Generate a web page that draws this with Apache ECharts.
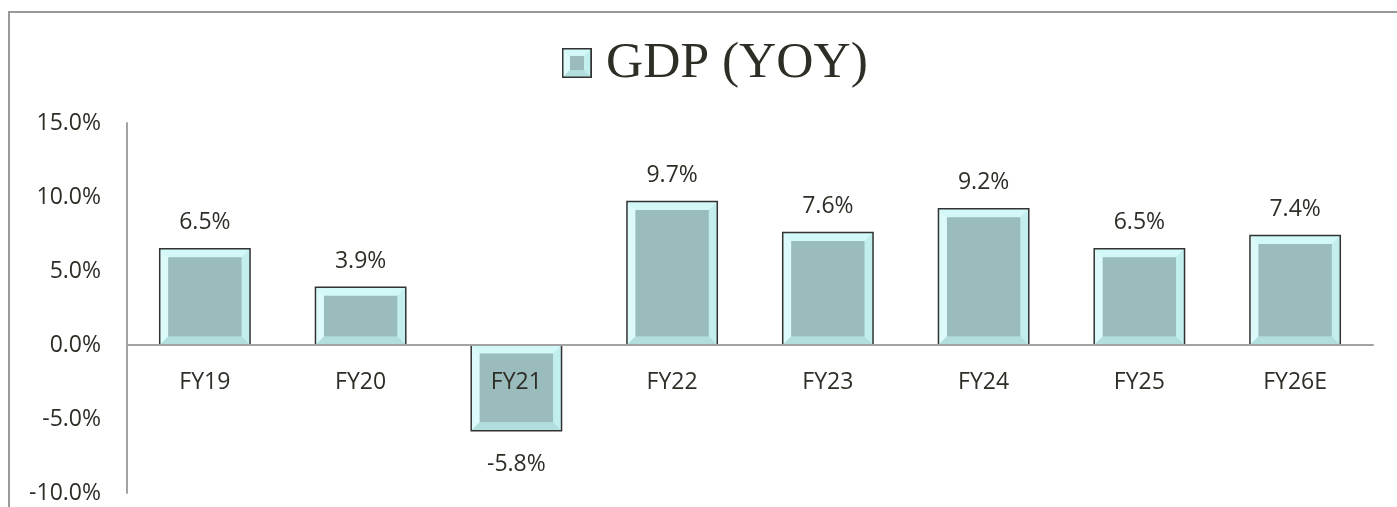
<!DOCTYPE html>
<html>
<head>
<meta charset="utf-8">
<script src="https://cdn.jsdelivr.net/npm/echarts@6/dist/echarts.min.js"></script>
<style>
html,body{margin:0;padding:0;background:#fff;}
#main{width:1397px;height:507px;}
</style>
</head>
<body>
<div id="main"></div>
<script>
const categories = ['FY19','FY20','FY21','FY22','FY23','FY24','FY25','FY26E'];
const gdpValues = [6.5, 3.9, -5.8, 9.7, 7.6, 9.2, 6.5, 7.4];
const seriesName = 'GDP (YOY)';
const yTicks = {min: -10, max: 15, interval: 5};

const C = {
  outline: '#333333',
  face: '#9bbcbc',
  top: '#d2f8f8',
  left: '#dcfafa',
  right: '#c2eeee',
  bottom: '#b2dede',
  text: '#2e2e26',
  axis: '#a3a3a3'
};

const iconSvg = '<svg xmlns="http://www.w3.org/2000/svg" width="39" height="30" viewBox="0 0 39 30" preserveAspectRatio="none">' +
  '<rect x="0.75" y="0.75" width="28.5" height="28.5" fill="' + C.right + '" stroke="' + C.outline + '" stroke-width="1.5"/>' +
  '<polygon points="0.75,0.75 29.25,0.75 22,8 8,8" fill="' + C.top + '"/>' +
  '<polygon points="0.75,0.75 8,8 8,22 0.75,29.25" fill="' + C.left + '"/>' +
  '<polygon points="0.75,29.25 8,22 22,22 29.25,29.25" fill="' + C.bottom + '"/>' +
  '<rect x="8" y="8" width="14" height="14" fill="' + C.face + '"/>' +
  '<rect x="0.75" y="0.75" width="28.5" height="28.5" fill="none" stroke="' + C.outline + '" stroke-width="1.5"/>' +
  '</svg>';
const iconUrl = 'image://data:image/svg+xml;charset=utf-8,' + encodeURIComponent(iconSvg);

const chart = echarts.init(document.getElementById('main'), null, {renderer: 'canvas'});

function renderBar(params, api) {
  const idx = api.value(0);
  const v = api.value(1);
  const base = api.coord([idx, 0]);
  const end = api.coord([idx, v]);
  const bw = api.size([1, 0])[0] * 0.58;
  const x0 = base[0] - bw / 2, x1 = base[0] + bw / 2;
  const y0 = Math.min(base[1], end[1]), y1 = Math.max(base[1], end[1]);
  const b = 8.5;
  const children = [
    {type: 'rect', shape: {x: x0, y: y0, width: bw, height: y1 - y0}, style: {fill: C.right}},
    {type: 'polygon', shape: {points: [[x0, y0], [x1, y0], [x1 - b, y0 + b], [x0 + b, y0 + b]]}, style: {fill: C.top}},
    {type: 'polygon', shape: {points: [[x0, y0], [x0 + b, y0 + b], [x0 + b, y1 - b], [x0, y1]]}, style: {fill: C.left}},
    {type: 'polygon', shape: {points: [[x0, y1], [x0 + b, y1 - b], [x1 - b, y1 - b], [x1, y1]]}, style: {fill: C.bottom}},
    {type: 'rect', shape: {x: x0 + b, y: y0 + b, width: bw - 2 * b, height: y1 - y0 - 2 * b}, style: {fill: C.face}},
    {type: 'rect', shape: {x: x0, y: y0, width: bw, height: y1 - y0}, style: {fill: null, stroke: C.outline, lineWidth: 1.5}},
    {
      type: 'line',
      shape: {x1: x0 - 2, y1: base[1], x2: x1 + 2, y2: base[1]},
      style: {stroke: C.axis, lineWidth: 2}
    },
    {
      type: 'text',
      style: {
        text: v.toFixed(1) + '%',
        x: base[0],
        y: v >= 0 ? y0 - 26 : y1 + 34,
        align: 'center',
        verticalAlign: 'middle',
        fontFamily: 'Open Sans',
        fontSize: 23,
        fill: C.text
      }
    },
    {
      type: 'text',
      style: {
        text: categories[idx],
        x: base[0],
        y: base[1] + 37,
        align: 'center',
        verticalAlign: 'middle',
        fontFamily: 'Open Sans',
        fontSize: 23,
        fill: C.text
      }
    }
  ];
  return {type: 'group', children: children};
}

const option = {
  backgroundColor: '#ffffff',
  animation: false,
  graphic: [
    {type: 'polyline', shape: {points: [[9, 507], [9, 12], [1397, 12]]}, style: {stroke: '#999999', lineWidth: 2, fill: null}, z: 0}
  ],
  legend: {
    data: [{name: seriesName, icon: iconUrl}],
    left: 557,
    top: 32,
    itemWidth: 39,
    itemHeight: 30,
    selectedMode: false,
    textStyle: {fontFamily: 'Liberation Serif', fontSize: 51.5, color: C.text}
  },
  grid: {left: 127, right: 24, top: 123, bottom: 14, containLabel: false, outerBoundsMode: 'none'},
  xAxis: {
    type: 'category',
    data: categories,
    axisLine: {show: true, onZero: true, lineStyle: {color: C.axis, width: 2}},
    axisTick: {show: false},
    axisLabel: {show: false},
    splitLine: {show: false}
  },
  yAxis: {
    type: 'value',
    min: yTicks.min,
    max: yTicks.max,
    interval: yTicks.interval,
    axisLine: {show: true, lineStyle: {color: C.axis, width: 2}},
    axisTick: {show: false},
    splitLine: {show: false},
    axisLabel: {
      margin: 26,
      fontFamily: 'Open Sans',
      fontSize: 23,
      color: C.text,
      formatter: function (v) { return v.toFixed(1) + '%'; }
    }
  },
  series: [{
    name: seriesName,
    type: 'custom',
    renderItem: renderBar,
    encode: {x: 0, y: 1},
    data: gdpValues.map(function (v, i) { return [i, v]; }),
    z: 2
  }]
};
chart.setOption(option);
</script>
</body>
</html>
